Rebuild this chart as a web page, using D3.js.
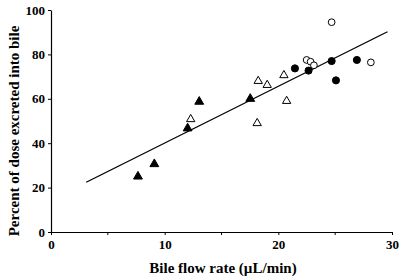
<!DOCTYPE html>
<html>
<head>
<meta charset="utf-8">
<script src="https://cdn.jsdelivr.net/npm/d3@7"></script>
<style>
  body { margin: 0; background: #fff; }
  svg text { font-family: "Liberation Serif", "Times New Roman", serif; font-weight: bold; fill: #000; }
</style>
</head>
<body>
<svg id="chart" width="400" height="280"></svg>
<script>
// values
var filledTriX = [7.65, 9.09, 12.02, 13.04, 17.53];
var filledTriY = [25.0, 30.6, 46.7, 58.7, 60.0];
var openTriX = [12.29, 18.14, 18.23, 19.02, 20.49, 20.73];
var openTriY = [50.8, 49.0, 68.0, 66.2, 70.6, 59.0];
var filledCircX = [21.46, 22.66, 24.69, 25.07, 26.91];
var filledCircY = [73.7, 72.7, 77.0, 68.3, 77.5];
var openCircX = [22.49, 22.84, 23.13, 24.69, 28.14];
var openCircY = [77.5, 76.7, 75.1, 94.5, 76.4];
var fitX = [3.1, 29.6];
var fitY = [22.4, 90.2];
var xTicks = [0, 10, 20, 30];
var xMinorTicks = [5, 15, 25];
var yTicks = [0, 20, 40, 60, 80, 100];

var svg = d3.select("#chart");

var x = d3.scaleLinear().domain([0, 30]).range([51, 392]);
var y = d3.scaleLinear().domain([0, 100]).range([232, 10]);

// x axis
var xAxis = svg.append("g").attr("transform", "translate(0,232)");
xAxis.call(d3.axisBottom(x).tickValues(xTicks).tickSize(3).tickSizeOuter(0).tickPadding(5));
xAxis.append("g").selectAll("line")
    .data(xMinorTicks)
    .enter().append("line")
    .attr("x1", function(d) { return x(d); })
    .attr("x2", function(d) { return x(d); })
    .attr("y1", 0).attr("y2", 3)
    .attr("stroke", "#000");
xAxis.selectAll("text").style("font-size", "13px");

// y axis
var yAxis = svg.append("g").attr("transform", "translate(51,0)");
yAxis.call(d3.axisLeft(y).tickValues(yTicks).tickSize(3).tickSizeOuter(0).tickPadding(3));
yAxis.selectAll("text").style("font-size", "13px");
svg.selectAll(".domain").attr("stroke", "#000").attr("stroke-width", 1.2);

// axis titles
svg.append("text")
    .attr("x", 223)
    .attr("y", 273)
    .attr("text-anchor", "middle")
    .style("font-size", "15px")
    .text("Bile flow rate (\u00b5L/min)");

svg.append("text")
    .attr("transform", "translate(19," + y(45.5) + ") rotate(-90)")
    .attr("text-anchor", "middle")
    .style("font-size", "15px")
    .text("Percent of dose excreted into bile");

// regression line
svg.append("path")
    .datum(d3.zip(fitX, fitY))
    .attr("fill", "none")
    .attr("stroke", "#000")
    .attr("stroke-width", 1.3)
    .attr("d", d3.line().x(function(d) { return x(d[0]); }).y(function(d) { return y(d[1]); }));

function drawPoints(xs, ys, type, size, filled) {
    var sym = d3.symbol().type(type).size(size);
    svg.append("g").selectAll("path")
        .data(d3.zip(xs, ys))
        .enter().append("path")
        .attr("transform", function(d) { return "translate(" + x(d[0]) + "," + y(d[1]) + ")"; })
        .attr("d", sym)
        .attr("fill", filled ? "#000" : "#fff")
        .attr("stroke", "#000")
        .attr("stroke-width", 1);
}

drawPoints(openTriX, openTriY, d3.symbolTriangle, 30, false);
drawPoints(filledTriX, filledTriY, d3.symbolTriangle, 34, true);
drawPoints(openCircX, openCircY, d3.symbolCircle, 36, false);
drawPoints(filledCircX, filledCircY, d3.symbolCircle, 40, true);
</script>
</body>
</html>
